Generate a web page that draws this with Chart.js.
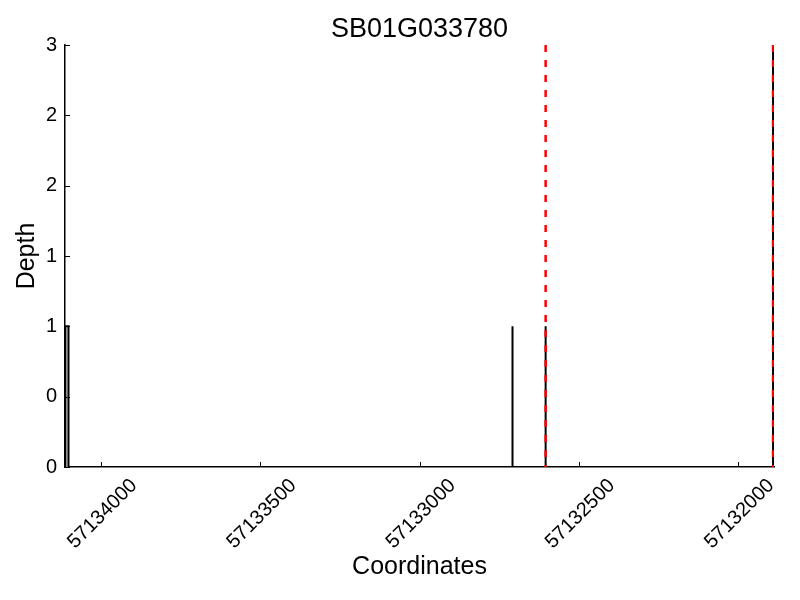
<!DOCTYPE html>
<html>
<head>
<meta charset="utf-8">
<script src="https://cdn.jsdelivr.net/npm/chart.js@4/dist/chart.umd.min.js"></script>
<style>
  html, body { margin: 0; padding: 0; background: #fff; }
  #wrap { width: 800px; height: 600px; }
</style>
</head>
<body>
<div id="wrap"><canvas id="c" width="800" height="600"></canvas></div>
<script>
// ---- data ----
const chartTitle = "SB01G033780";
const xAxisTitle = "Coordinates";
const yAxisTitle = "Depth";
// coverage outline (genomic position, depth)
const coveragePos   = [57134112, 57134112, 57134102, 57134102, 57132708, 57132708, 57132708, 57132604, 57132604, 57132604, 57131890, 57131890, 57131890];
const coverageDepth = [0,        1,        1,        0,        0,        1,        0,        0,        1,        0,        0,        3,        0];
// gene boundaries (red dashed)
const geneBounds = [57132604, 57131890];
// axis range and ticks
const xRange = [57131887, 57134113];
const xTickValues = [57132000, 57132500, 57133000, 57133500, 57134000];
const xTickLabels = ["57132000", "57132500", "57133000", "57133500", "57134000"];
const yRange = [0, 3];
const yTickValues = [0, 0.5, 1, 1.5, 2, 2.5, 3];
const yTickLabels = ["0", "0", "1", "1", "2", "2", "3"];

const FONT = "'Liberation Sans', Arial, Helvetica, sans-serif";

const coverageData = coveragePos.map((p, i) => ({ x: p, y: coverageDepth[i] }));
const boundDatasets = geneBounds.map(b => ({
  type: 'scatter',
  data: [{ x: b, y: yRange[1] }, { x: b, y: yRange[0] }],
  showLine: true,
  borderColor: '#ff0000',
  borderWidth: 2.5,
  borderDash: [7, 8],
  pointRadius: 0,
  fill: false,
  order: 0
}));

const inwardTicks = {
  id: 'inwardTicks',
  afterDatasetsDraw(chart) {
    const ctx = chart.ctx;
    const xs = chart.scales.x, ys = chart.scales.y;
    const area = chart.chartArea;
    ctx.save();
    ctx.strokeStyle = '#000';
    ctx.lineWidth = 1;
    ctx.beginPath();
    xTickValues.forEach(v => {
      const px = Math.round(xs.getPixelForValue(v)) + 0.5;
      ctx.moveTo(px, area.bottom);
      ctx.lineTo(px, area.bottom - 5);
    });
    yTickValues.forEach(v => {
      const py = Math.round(ys.getPixelForValue(v)) + 0.5;
      ctx.moveTo(area.left, py);
      ctx.lineTo(area.left + 5, py);
    });
    ctx.stroke();
    ctx.restore();
  }
};

const titlePlugin = {
  id: 'centeredTitle',
  afterDraw(chart) {
    const ctx = chart.ctx;
    const area = chart.chartArea;
    ctx.save();
    ctx.fillStyle = '#000';
    ctx.font = "27px " + FONT;
    ctx.textAlign = 'center';
    ctx.textBaseline = 'alphabetic';
    ctx.fillText(chartTitle, (area.left + area.right) / 2, 37);
    ctx.restore();
  }
};

new Chart(document.getElementById('c'), {
  type: 'scatter',
  data: {
    datasets: [
      ...boundDatasets,
      {
        type: 'scatter',
        data: coverageData,
        showLine: true,
        borderColor: '#000000',
        borderWidth: 2,
        backgroundColor: '#d3d3d3',
        fill: 'origin',
        pointRadius: 0,
        tension: 0,
        order: 1
      }
    ]
  },
  options: {
    responsive: false,
    animation: false,
    devicePixelRatio: 1,
    layout: { padding: { top: 45, right: 26, bottom: 0, left: 0 } },
    plugins: {
      legend: { display: false },
      tooltip: { enabled: false },
      title: { display: false }
    },
    scales: {
      x: {
        type: 'linear',
        reverse: true,
        min: xRange[0],
        max: xRange[1],
        grid: { display: false, drawTicks: false },
        border: { display: true, color: '#000', width: 1.5 },
        afterBuildTicks(scale) { scale.ticks = xTickValues.map(v => ({ value: v })); },
        afterFit(scale) { scale.height = 133; },
        ticks: {
          autoSkip: false,
          minRotation: 45,
          maxRotation: 45,
          padding: 7,
          labelOffset: 33,
          color: '#000',
          font: { family: FONT, size: 20 },
          callback(value) { const i = xTickValues.indexOf(value); return i >= 0 ? xTickLabels[i] : ''; }
        },
        title: {
          display: true,
          text: xAxisTitle,
          color: '#000',
          font: { family: FONT, size: 25 },
          padding: { top: 0, bottom: 18 }
        }
      },
      y: {
        type: 'linear',
        min: yRange[0],
        max: yRange[1],
        grid: { display: false, drawTicks: false },
        border: { display: true, color: '#000', width: 1.5 },
        afterBuildTicks(scale) { scale.ticks = yTickValues.map(v => ({ value: v })); },
        afterFit(scale) { scale.width = 65; },
        ticks: {
          autoSkip: false,
          padding: 8,
          color: '#000',
          font: { family: FONT, size: 20 },
          callback(value) { const i = yTickValues.indexOf(value); return i >= 0 ? yTickLabels[i] : ''; }
        },
        title: {
          display: true,
          text: yAxisTitle,
          color: '#000',
          font: { family: FONT, size: 25 },
          padding: { top: 12, bottom: 0 }
        }
      }
    }
  },
  plugins: [inwardTicks, titlePlugin]
});
</script>
</body>
</html>
